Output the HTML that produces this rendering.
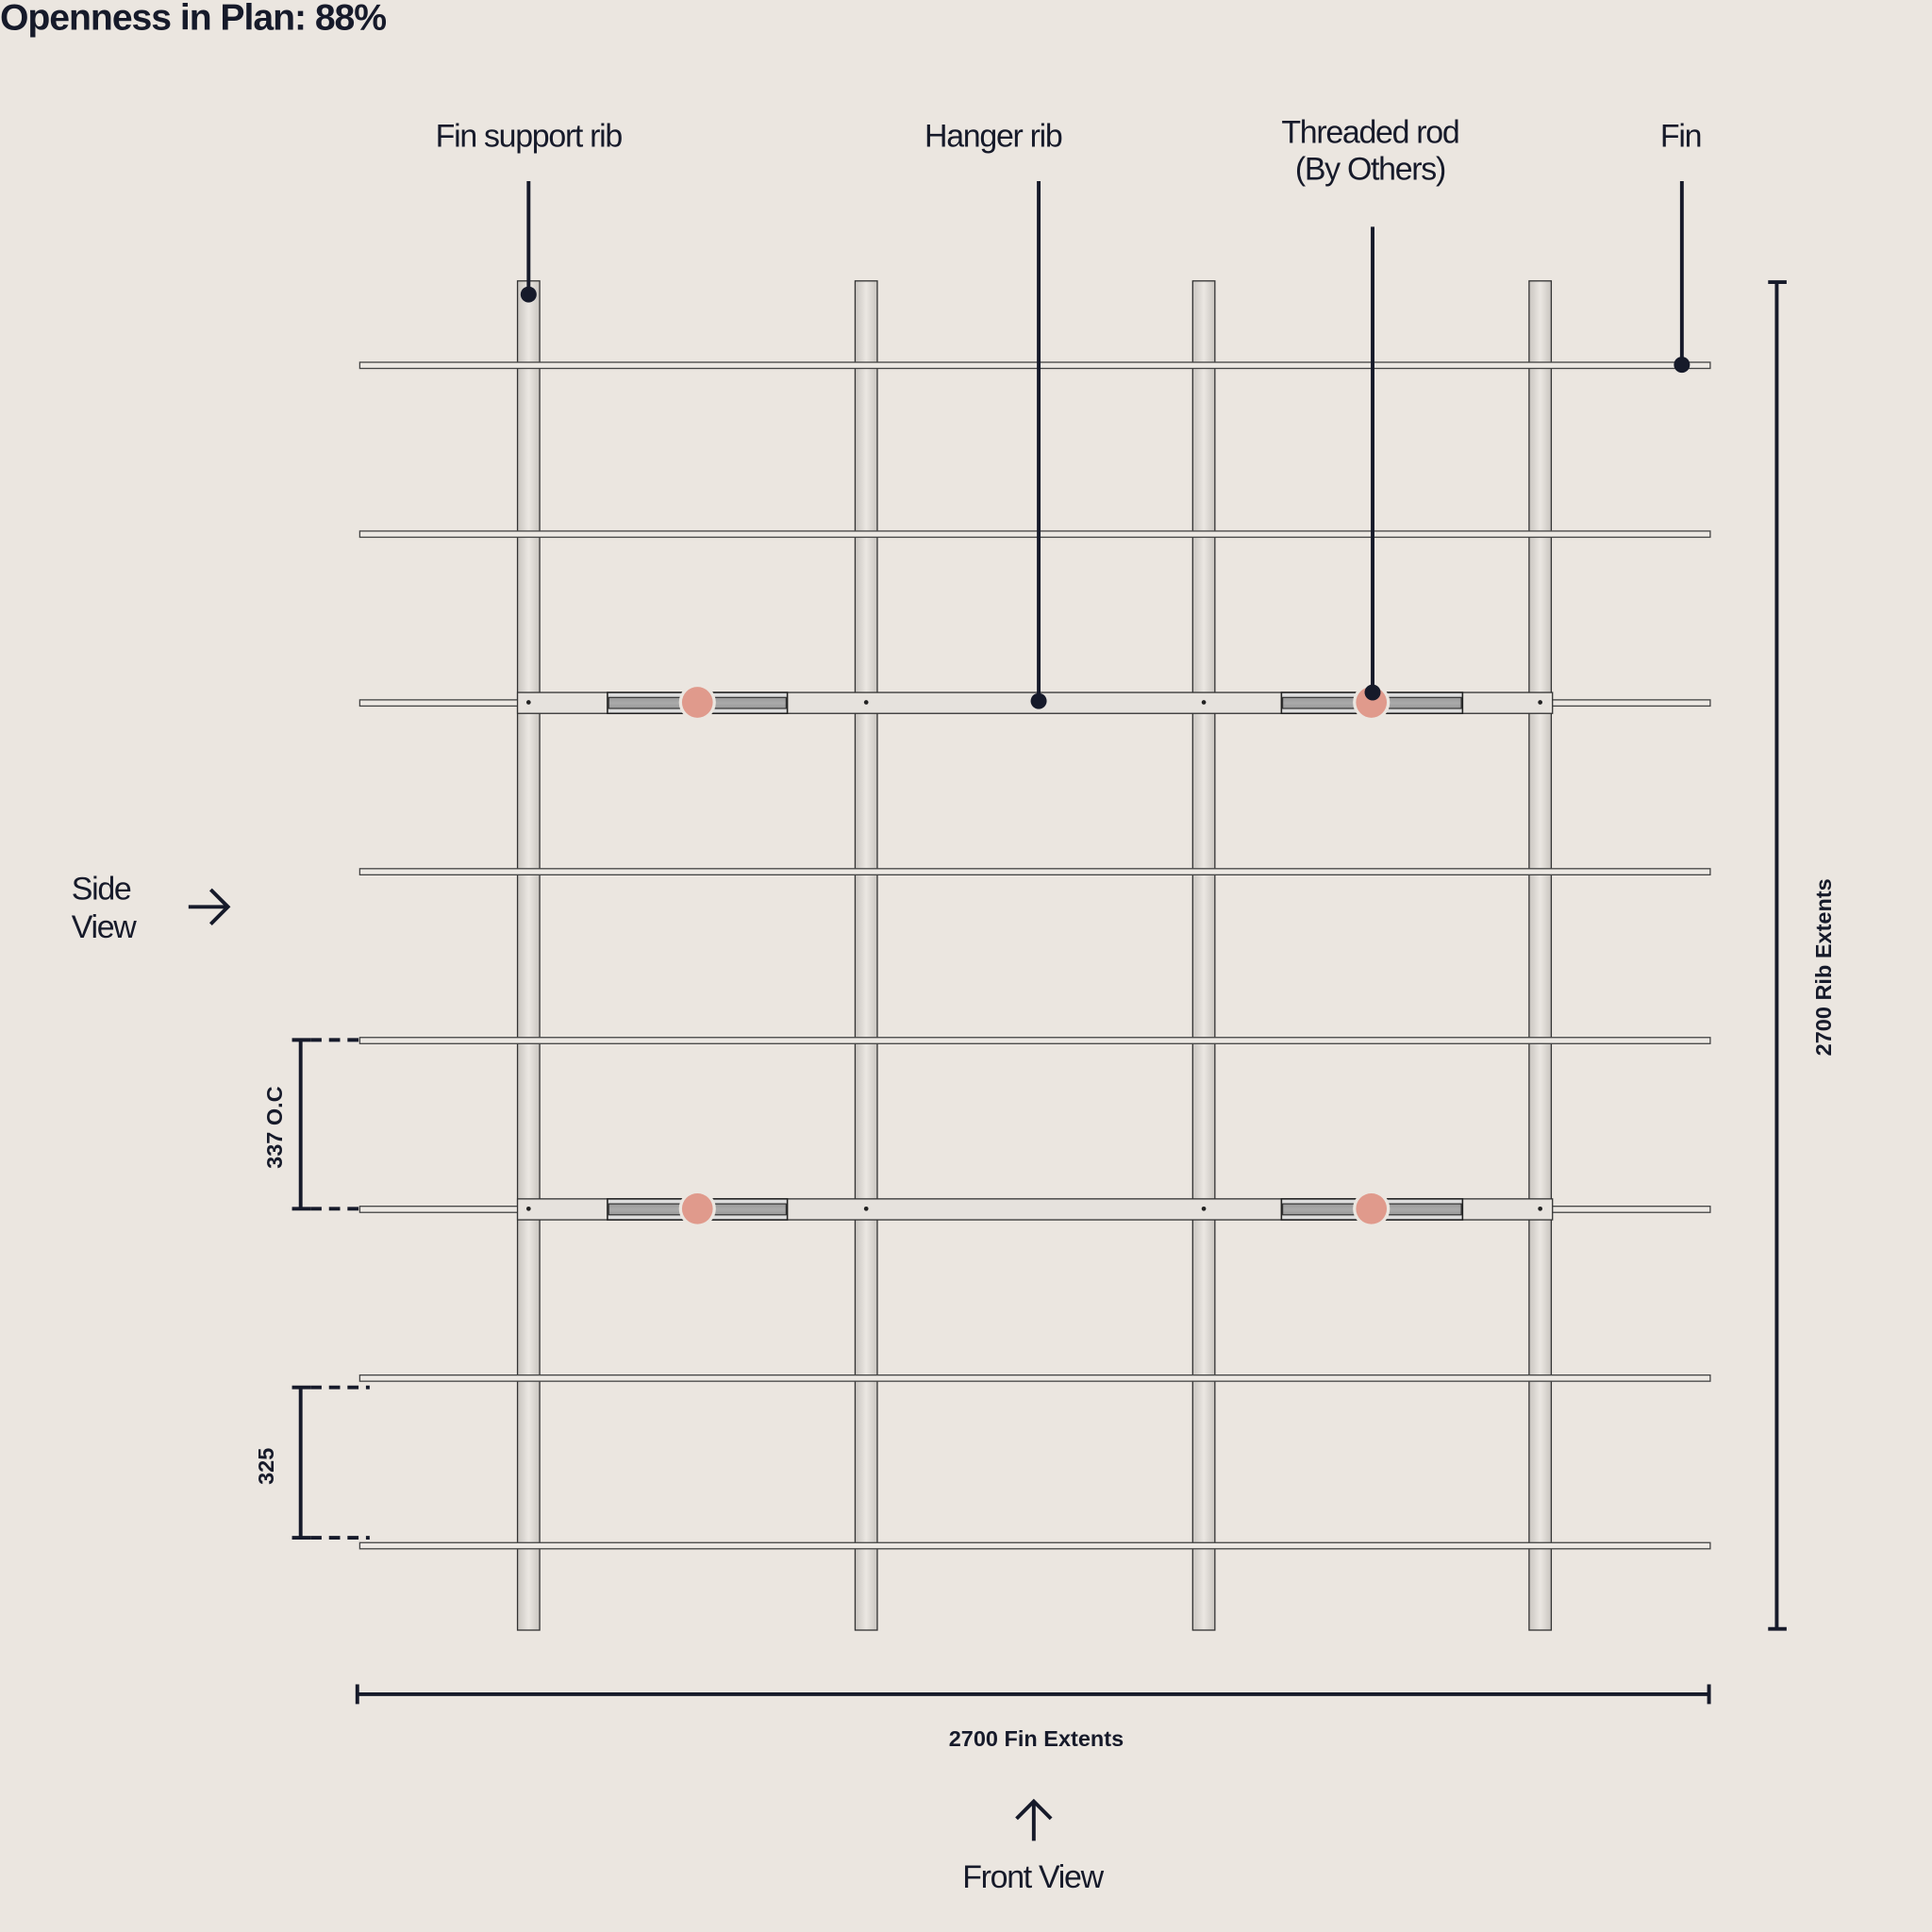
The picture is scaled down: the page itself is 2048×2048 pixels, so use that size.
<!DOCTYPE html>
<html><head><style>
html,body{margin:0;padding:0;background:#ebe6e0;}
svg{display:block;}
text{font-family:"Liberation Sans",sans-serif;fill:#161a2a;}
</style></head><body>
<svg width="2048" height="2048" viewBox="0 0 1568 1568" xmlns="http://www.w3.org/2000/svg">
<defs>
<linearGradient id="col" x1="0" x2="1" y1="0" y2="0">
<stop offset="0" stop-color="#c9c5c0"/><stop offset="0.5" stop-color="#ebe7e2"/><stop offset="1" stop-color="#c9c5c0"/>
</linearGradient>
<linearGradient id="ch" x1="0" x2="0" y1="0" y2="1">
<stop offset="0" stop-color="#999"/><stop offset="0.5" stop-color="#aaa"/><stop offset="1" stop-color="#999"/>
</linearGradient>
</defs>
<rect width="1568" height="1568" fill="#ebe6e0"/>
<text x="0" y="24" font-size="30" font-weight="bold" letter-spacing="-0.8">Openness in Plan: 88%</text>

<g stroke="#333" stroke-width="1" fill="url(#col)">
<rect x="420" y="228" width="18" height="1095"/>
<rect x="694" y="228" width="18" height="1095"/>
<rect x="968" y="228" width="18" height="1095"/>
<rect x="1241" y="228" width="18" height="1095"/>
</g>
<g stroke="#444" stroke-width="1" fill="#ece8e3">
<rect x="292" y="294" width="1096" height="5"/>
<rect x="292" y="431" width="1096" height="5"/>
<rect x="292" y="568" width="1096" height="5"/>
<rect x="292" y="705" width="1096" height="5"/>
<rect x="292" y="842" width="1096" height="5"/>
<rect x="292" y="979" width="1096" height="5"/>
<rect x="292" y="1116" width="1096" height="5"/>
<rect x="292" y="1252" width="1096" height="5"/>
</g>
<g id="hr">
<rect x="420" y="562" width="840" height="17" fill="#e6e2dd" stroke="#333" stroke-width="1"/>
<rect x="493" y="562" width="146" height="17" fill="#ddd" stroke="#222" stroke-width="1.2"/>
<rect x="494" y="566" width="144" height="9" fill="url(#ch)" stroke="#222" stroke-width="0.8"/>
<rect x="1040" y="562" width="147" height="17" fill="#ddd" stroke="#222" stroke-width="1.2"/>
<rect x="1041" y="566" width="145" height="9" fill="url(#ch)" stroke="#222" stroke-width="0.8"/>
<circle cx="566" cy="570" r="15" fill="#ebe6e0"/>
<circle cx="566" cy="570" r="12.5" fill="#e09a8c"/>
<circle cx="1113" cy="570" r="15" fill="#ebe6e0"/>
<circle cx="1113" cy="570" r="12.5" fill="#e09a8c"/>
<g fill="#222"><circle cx="429" cy="570" r="1.8"/><circle cx="703" cy="570" r="1.8"/><circle cx="977" cy="570" r="1.8"/><circle cx="1250" cy="570" r="1.8"/></g>
</g>
<use href="#hr" y="411"/>

<g stroke="#161a2a" stroke-width="3" fill="none">
<line x1="429" y1="147" x2="429" y2="238"/>
<line x1="843" y1="147" x2="843" y2="569"/>
<line x1="1114" y1="184" x2="1114" y2="562"/>
<line x1="1365" y1="147" x2="1365" y2="296"/>
</g>
<g fill="#161a2a">
<circle cx="429" cy="239" r="6.5"/><circle cx="843" cy="569" r="6.5"/><circle cx="1114" cy="562" r="6.5"/><circle cx="1365" cy="296" r="6.5"/>
</g>
<g font-size="26" text-anchor="middle" letter-spacing="-1">
<text x="429" y="119">Fin support rib</text>
<text x="806" y="119">Hanger rib</text>
<text x="1112" y="116">Threaded rod</text>
<text x="1112" y="146">(By Others)</text>
<text x="1364" y="119">Fin</text>
<text x="838" y="1532">Front View</text>
</g>
<g font-size="26" letter-spacing="-1">
<text x="58" y="730">Side</text>
<text x="58" y="761">View</text>
</g>
<g stroke="#161a2a" stroke-width="3" fill="none">
<line x1="153" y1="736" x2="185" y2="736"/><polyline points="171,722 185,736 171,750"/>
<line x1="839" y1="1494" x2="839" y2="1462"/><polyline points="825,1476 839,1462 853,1476"/>
</g>
<g stroke="#161a2a" stroke-width="3" fill="none">
<line x1="1442" y1="228" x2="1442" y2="1323"/>
<line x1="1435" y1="229" x2="1450" y2="229"/><line x1="1435" y1="1322" x2="1450" y2="1322"/>
<line x1="290" y1="1375" x2="1387" y2="1375"/>
<line x1="290" y1="1367" x2="290" y2="1383"/><line x1="1387" y1="1367" x2="1387" y2="1383"/>
<line x1="244" y1="844" x2="244" y2="981"/>
<line x1="237" y1="844" x2="252" y2="844"/><line x1="237" y1="981" x2="252" y2="981"/>
<line x1="252" y1="844" x2="292" y2="844" stroke-dasharray="9,6"/>
<line x1="252" y1="981" x2="292" y2="981" stroke-dasharray="9,6"/>
<line x1="244" y1="1126" x2="244" y2="1248"/>
<line x1="237" y1="1126" x2="252" y2="1126"/><line x1="237" y1="1248" x2="252" y2="1248"/>
<line x1="252" y1="1126" x2="300" y2="1126" stroke-dasharray="9,6"/>
<line x1="252" y1="1248" x2="300" y2="1248" stroke-dasharray="9,6"/>
</g>
<g font-size="18" font-weight="bold">
<text x="841" y="1417" text-anchor="middle">2700 Fin Extents</text>
<text transform="translate(1486,785) rotate(-90)" text-anchor="middle">2700 Rib Extents</text>
<text transform="translate(229,915) rotate(-90)" text-anchor="middle">337 O.C</text>
<text transform="translate(222,1190) rotate(-90)" text-anchor="middle">325</text>
</g>
</svg>
</body></html>
